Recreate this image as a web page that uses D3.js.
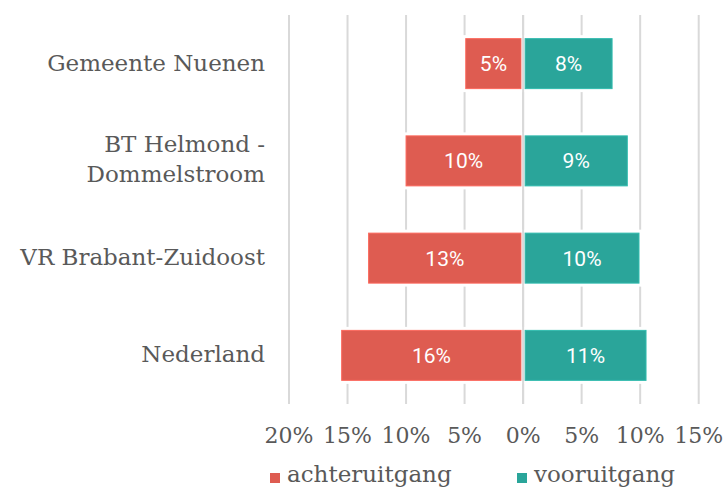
<!DOCTYPE html>
<html>
<head>
<meta charset="utf-8">
<script src="https://cdn.jsdelivr.net/npm/d3@7"></script>
<style>
  body { margin: 0; background: #fff; }
  svg { display: block; }
</style>
</head>
<body>
<svg id="chart" width="725" height="488"></svg>
<script>
const categories = ["Gemeente Nuenen", "BT Helmond -\nDommelstroom", "VR Brabant-Zuidoost", "Nederland"];
const achteruitgang = [4.9, 10.0, 13.2, 15.5];
const vooruitgang = [7.6, 8.9, 9.9, 10.5];
const tickValues = [-20, -15, -10, -5, 0, 5, 10, 15];
const seriesNames = ["achteruitgang", "vooruitgang"];

const svg = d3.select("#chart");
const serif = "'DejaVu Serif', serif";
const sans = "Roboto, 'Noto Sans', sans-serif";
const textCol = "#595959";
const red = "#de5c51";
const green = "#2aa59a";

const x = d3.scaleLinear().domain([-20, 15]).range([289, 698.7]);
const y = d3.scaleBand().domain(categories).range([15, 404])
  .paddingInner(0.486).paddingOuter(0.243);

// gridlines
svg.append("g").selectAll("line")
  .data(tickValues)
  .join("line")
  .attr("x1", d => x(d)).attr("x2", d => x(d))
  .attr("y1", 15).attr("y2", 404)
  .attr("stroke", "#d9d9d9").attr("stroke-width", 2);

const rows = categories.map((c, i) => ({ cat: c, a: achteruitgang[i], v: vooruitgang[i] }));

function drawBars(key, color, sign) {
  const g = svg.append("g");
  const x0 = x(0) + sign * 2;
  const xs = d => sign < 0 ? x(-d[key]) : x0;
  const ws = d => sign < 0 ? x0 - x(-d[key]) : x(d[key]) - x0;
  // white halo that interrupts gridlines
  g.selectAll("rect.halo").data(rows).join("rect")
    .attr("class", "halo")
    .attr("x", xs).attr("y", d => y(d.cat))
    .attr("width", ws).attr("height", y.bandwidth())
    .attr("fill", "#fff").attr("stroke", "#fff").attr("stroke-width", 7);
  g.selectAll("rect.bar").data(rows).join("rect")
    .attr("class", "bar")
    .attr("x", xs).attr("y", d => y(d.cat))
    .attr("width", ws).attr("height", y.bandwidth())
    .attr("fill", color)
    .attr("stroke", d3.color(color).brighter(0.35)).attr("stroke-width", 1);
  g.selectAll("text").data(rows).join("text")
    .attr("x", d => xs(d) + ws(d) / 2)
    .attr("y", d => y(d.cat) + y.bandwidth() / 2 + 7.5)
    .attr("text-anchor", "middle")
    .attr("fill", "#fff")
    .style("font-family", sans).style("font-size", "21px")
    .text(d => Math.round(d[key]) + "%");
}
drawBars("a", red, -1);
drawBars("v", green, 1);

// zero line on top
svg.append("line")
  .attr("x1", x(0)).attr("x2", x(0)).attr("y1", 15).attr("y2", 404)
  .attr("stroke", "#d9d9d9").attr("stroke-width", 2);

// category labels
svg.append("g").selectAll("text")
  .data(categories)
  .join("text")
  .attr("text-anchor", "end")
  .attr("fill", textCol)
  .style("font-family", serif).style("font-size", "23px")
  .each(function (d) {
    const lines = d.split("\n");
    const cy = y(d) + y.bandwidth() / 2;
    const t = d3.select(this);
    lines.forEach((ln, i) => {
      const by = lines.length === 1 ? cy + 7 : cy - 9 + i * 30.6;
      t.append("tspan").attr("x", 265).attr("y", by).text(ln);
    });
  });

// x tick labels
svg.append("g").selectAll("text")
  .data(tickValues)
  .join("text")
  .attr("x", d => x(d)).attr("y", 443)
  .attr("text-anchor", "middle")
  .attr("fill", textCol)
  .style("font-family", serif).style("font-size", "22px")
  .text(d => Math.abs(d) + "%");

// legend
const legendX = [270, 517];
const legend = svg.append("g").selectAll("g")
  .data(seriesNames)
  .join("g")
  .attr("transform", (d, i) => `translate(${legendX[i]},0)`);
legend.append("rect")
  .attr("x", 0).attr("y", 473).attr("width", 10).attr("height", 10)
  .attr("fill", (d, i) => i === 0 ? red : green);
legend.append("text")
  .attr("x", 17).attr("y", 482)
  .attr("fill", textCol)
  .style("font-family", serif).style("font-size", "23px")
  .text(d => d);
</script>
</body>
</html>
